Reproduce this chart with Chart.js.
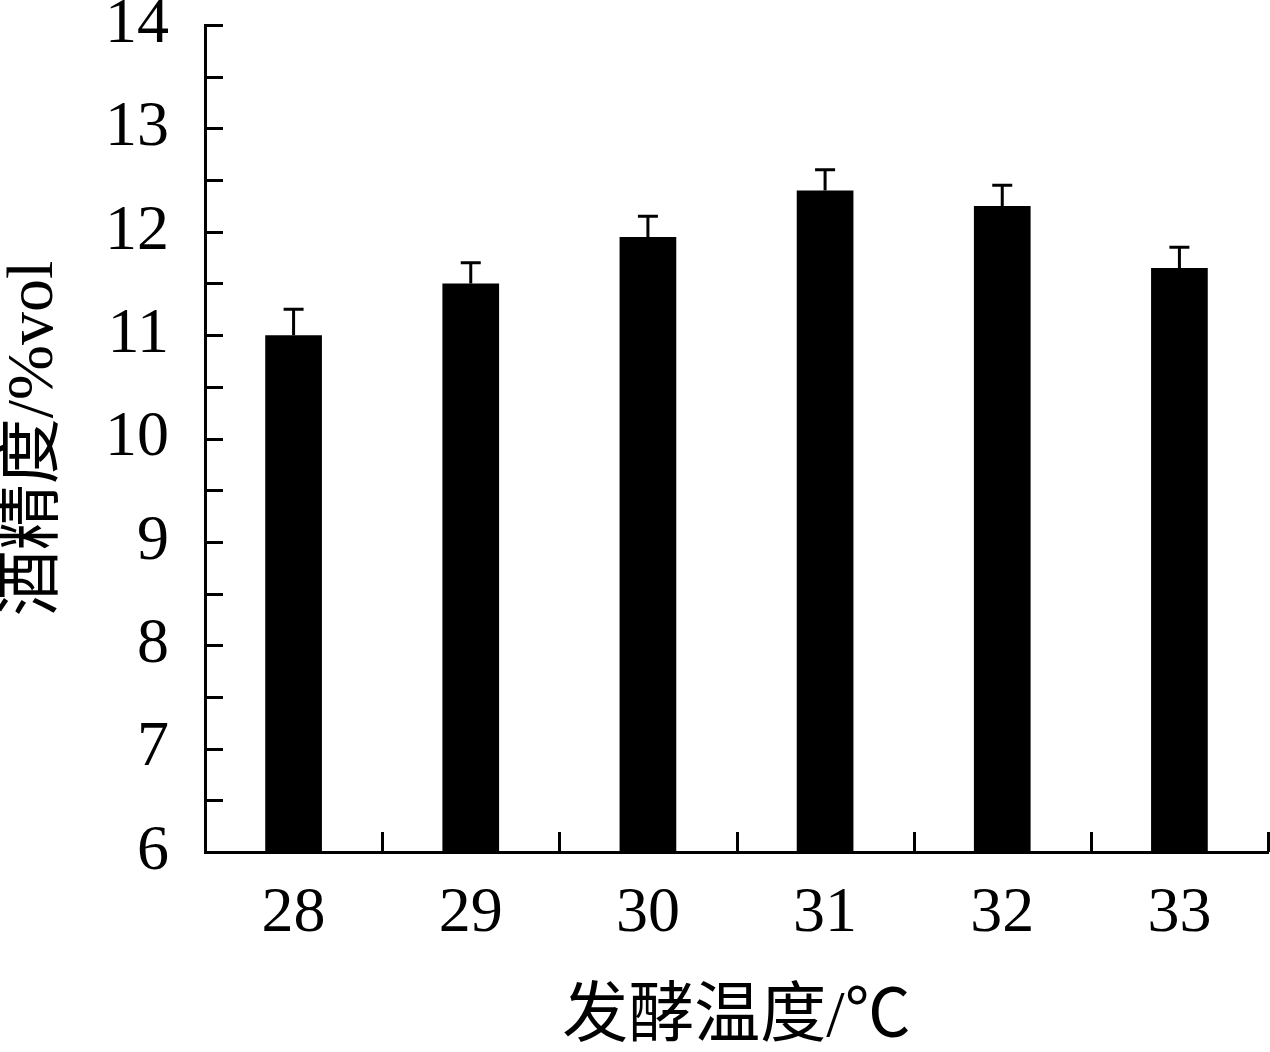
<!DOCTYPE html>
<html><head><meta charset="utf-8">
<script src="https://cdn.jsdelivr.net/npm/chart.js@4/dist/chart.umd.min.js"></script>
<style>html,body{margin:0;padding:0;background:#fff}#wrap{width:1270px;height:1052px}</style>
</head><body><div id="wrap"><canvas id="c" width="1270" height="1052"></canvas></div>
<script>
const categories = ['28','29','30','31','32','33'];
const alcohol = [11.0, 11.5, 11.95, 12.4, 12.25, 11.65];
const errors = [0.25, 0.2, 0.2, 0.2, 0.2, 0.2];
const yMin = 6, yMax = 14, yStep = 1, yMinorStep = 0.5;
const xTitle = '发酵温度/℃';
const yTitle = '酒精度/%vol';

const FONT = "'Liberation Serif','Noto Sans CJK SC',serif";

const decor = {
  id: 'decor',
  afterDatasetsDraw(chart) {
    const ctx = chart.ctx, x = chart.scales.x, y = chart.scales.y;
    ctx.save();
    ctx.strokeStyle = '#000';
    ctx.lineWidth = 3;
    chart.getDatasetMeta(0).data.forEach((bar, i) => {
      const cx = bar.x;
      const top = y.getPixelForValue(alcohol[i] + errors[i]);
      const base = y.getPixelForValue(alcohol[i]);
      ctx.beginPath();
      ctx.moveTo(cx, base); ctx.lineTo(cx, top);
      ctx.moveTo(cx - 10, top); ctx.lineTo(cx + 10, top);
      ctx.stroke();
    });
    const left = chart.chartArea.left;
    for (let v = yMin; v <= yMax + 1e-9; v += yMinorStep) {
      const py = Math.round(y.getPixelForValue(v)) + 0.5;
      ctx.beginPath(); ctx.moveTo(left, py); ctx.lineTo(left + 18, py); ctx.stroke();
    }
    const n = categories.length;
    const w = (chart.chartArea.right - chart.chartArea.left) / n;
    const bottom = chart.chartArea.bottom;
    for (let i = 1; i <= n; i++) {
      const px = Math.min(Math.round(chart.chartArea.left + i * w) + 0.5, chart.width - 1.5);
      ctx.beginPath(); ctx.moveTo(px, bottom); ctx.lineTo(px, bottom - 20); ctx.stroke();
    }
    ctx.restore();
  }
};

new Chart(document.getElementById('c'), {
  type: 'bar',
  data: { labels: categories, datasets: [{ data: alcohol, backgroundColor: '#000', borderWidth: 0, barPercentage: 0.32, categoryPercentage: 1 }] },
  options: {
    responsive: false, animation: false, devicePixelRatio: 1,
    layout: { padding: { top: 25, right: 2, left: 0, bottom: 0 } },
    plugins: { legend: { display: false }, tooltip: { enabled: false } },
    scales: {
      x: {
        offset: true,
        grid: { display: false, drawTicks: false },
        border: { display: true, color: '#000', width: 3 },
        ticks: { color: '#000', font: { family: FONT, size: 64 }, padding: 24, maxRotation: 0 },
        title: { display: true, text: xTitle, color: '#000', font: { family: FONT, size: 66, lineHeight: 1 }, padding: { top: 10, bottom: 0 } },
        afterFit(s) { s.height = 200; s.paddingLeft = 0; s.paddingRight = 0; }
      },
      y: {
        min: yMin, max: yMax,
        grid: { display: false, drawTicks: false },
        border: { display: true, color: '#000', width: 3 },
        ticks: { stepSize: yStep, color: '#000', font: { family: FONT, size: 64 }, padding: 36 },
        title: { display: true, text: yTitle, color: '#000', font: { family: FONT, size: 66, lineHeight: 1 }, padding: { top: 2, bottom: 10 } },
        afterFit(s) { s.width = 205; s.paddingTop = 0; s.paddingBottom = 0; }
      }
    }
  },
  plugins: [decor]
});
</script></body></html>
